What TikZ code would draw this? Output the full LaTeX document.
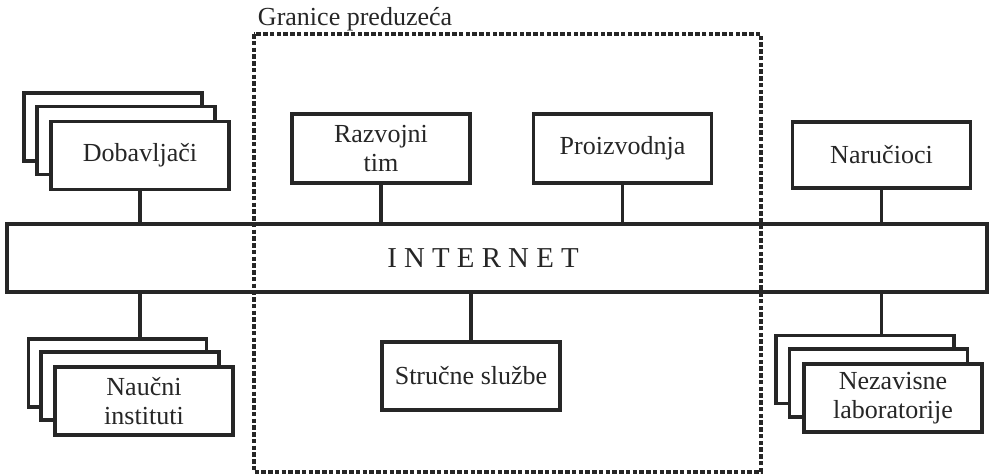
\documentclass[tikz,border=0pt]{standalone}
\usepackage{fontspec}
\setmainfont{Liberation Serif}
\usetikzlibrary{positioning}
\tikzset{
  unit/.style={draw=black!85, line width=2.4pt, fill=white, minimum width=4.45cm, minimum height=1.7cm,
    align=center, inner sep=2pt, text=black!85, font=\fontsize{18.5}{20.5}\selectfont},
  link/.style={draw=black!85, line width=2.4pt},
  border/.style={draw=black!85, line width=2.4pt, dash pattern=on 3.2pt off 1.6pt},
}
\begin{document}
\begin{tikzpicture}[x=0.025cm, y=-0.025cm, line join=miter]
\useasboundingbox (0,0) rectangle (989,474);
\node[unit, minimum width=24.5cm] (inet) at (497,258) {};
\node[text=black!85, font=\fontsize{20.5}{22}\selectfont] (inettxt) at (483,258) {I N T E R N E T};
\node[unit] (dob3) at (113,127) {};
\node[unit] (dob2) at (126,140.5) {};
\node[unit] (dob) at (140,155.5) {Dobavljači};
\node[unit, minimum height=1.73cm] (razvoj) at (381,148.5) {Razvojni\\tim};
\node[unit, minimum height=1.73cm] (proiz) at (622.5,148.5) {Proizvodnja};
\node[unit, minimum height=1.65cm] (nar) at (881.5,155) {Naručioci};
\node[unit] (nau3) at (117.5,373) {};
\node[unit] (nau2) at (130,386) {};
\node[unit] (nau) at (144,401) {Naučni\\instituti};
\node[unit] (struc) at (471,376) {Stručne službe};
\node[unit] (nez3) at (865,369.5) {};
\node[unit] (nez2) at (878.5,383) {};
\node[unit] (nez) at (893,398) {Nezavisne\\laboratorije};
\draw[link] (dob.south) -- (dob.south |- inet.north);
\draw[link] (razvoj.south) -- (razvoj.south |- inet.north);
\draw[link] (proiz.south) -- (proiz.south |- inet.north);
\draw[link] (nar.south) -- (nar.south |- inet.north);
\draw[link] (inet.south -| dob.south) -- (nau3.north -| dob.south);
\draw[link] (struc.north) -- (struc.north |- inet.south);
\draw[link] (inet.south -| nar.south) -- (nez3.north -| nar.south);
\draw[border] (254,34) rectangle (761,472);
\node[anchor=base west, text=black!85, font=\fontsize{18.5}{20.5}\selectfont] (granica) at (253,25) {Granice preduzeća};
\end{tikzpicture}
\end{document}
